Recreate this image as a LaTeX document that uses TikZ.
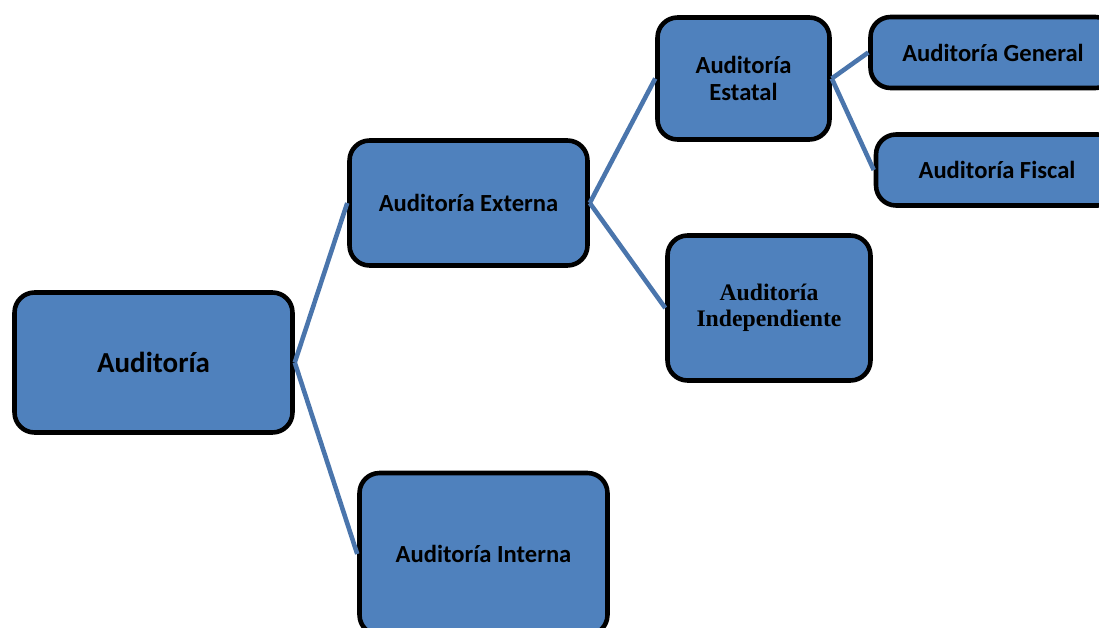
\documentclass[tikz,border=0pt]{standalone}
\usepackage{fontspec}
\setmainfont{Carlito}
\newfontfamily\indepfont{Liberation Serif}
\definecolor{boxfill}{RGB}{79,129,189}
\definecolor{linkline}{RGB}{74,117,172}
\tikzstyle{box}=[draw=black, line width=2.6pt, fill=boxfill, rounded corners=0.4cm, inner sep=0pt, align=center, font=\bfseries]
\tikzstyle{link}=[line width=2.6pt, color=linkline]

\begin{document}
\begin{tikzpicture}[x=0.02cm,y=-0.02cm]
  \useasboundingbox (0,0) rectangle (1099,628);
  \draw (153.5,362.5) node[box,minimum width=5.56cm,minimum height=2.8cm,font=\bfseries\fontsize{16.5}{18}\selectfont] (aud) {Auditoría};

  \draw (468.5,203) node[box,minimum width=4.76cm,minimum height=2.5cm,font=\bfseries\fontsize{14}{16}\selectfont] (ext) {Auditoría Externa};
  \draw (483.5,554) node[box,minimum width=4.96cm,minimum height=3.24cm,font=\bfseries\fontsize{14}{16}\selectfont] (int) {Auditoría Interna};

  \draw (743.5,78.5) node[box,minimum width=3.44cm,minimum height=2.44cm,font=\bfseries\fontsize{14}{15}\selectfont] (est) {Auditoría\\Estatal};
  \draw (769,308) node[box,minimum width=4.06cm,minimum height=2.9cm,font=\indepfont\bfseries\fontsize{13.5}{14.5}\selectfont] (ind) {Auditoría\\Independiente};

  \draw (993,52.5) node[box,minimum width=4.9cm,minimum height=1.42cm,font=\bfseries\fontsize{14}{16}\selectfont] (gen) {Auditoría General};
  \draw (997,170) node[box,minimum width=4.84cm,minimum height=1.42cm,font=\bfseries\fontsize{14}{16}\selectfont] (fis) {Auditoría Fiscal};

  \draw[link] (aud.east) -- (ext.west);
  \draw[link] (aud.east) -- (int.west);
  \draw[link] (ext.east) -- (est.west);
  \draw[link] (ext.east) -- (ind.west);
  \draw[link] (est.east) -- (gen.west);
  \draw[link] (est.east) -- (fis.west);
\end{tikzpicture}
\end{document}
